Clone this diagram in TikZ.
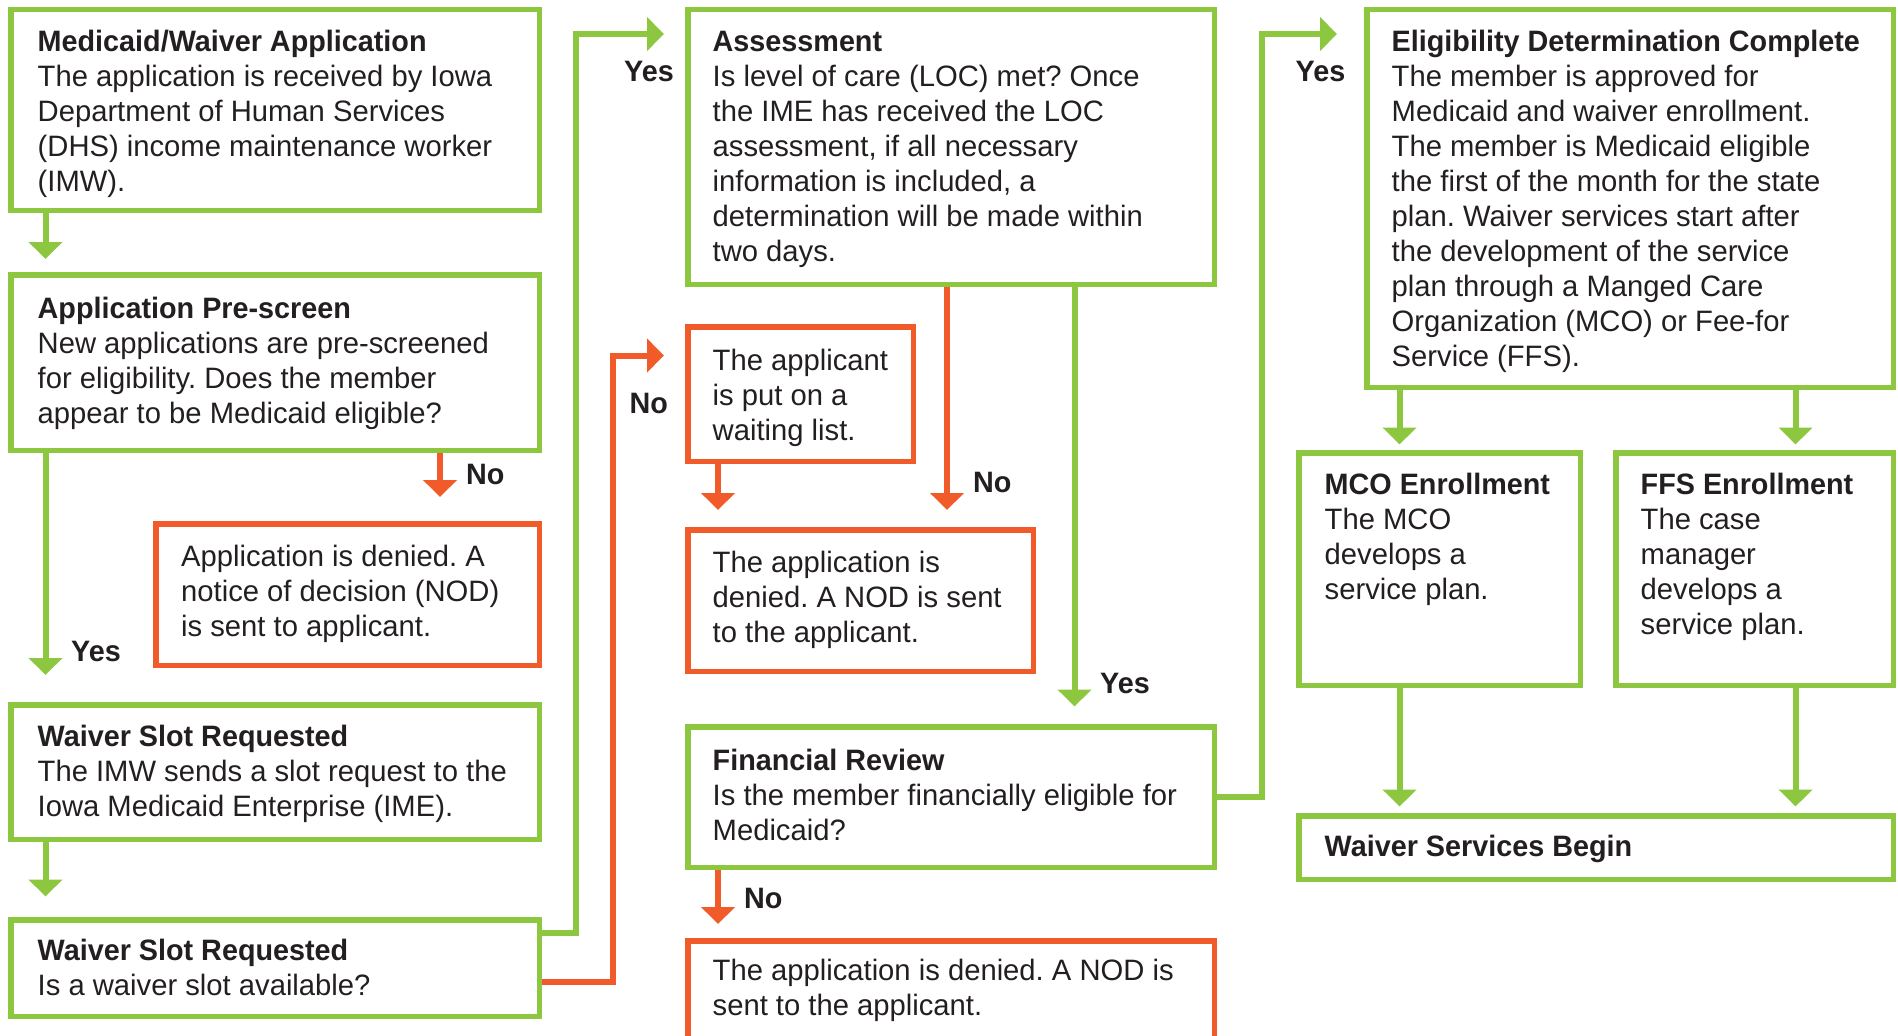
\documentclass[tikz,border=0pt]{standalone}
\usepackage{fontspec}
\setmainfont{Liberation Sans}[FakeStretch=0.99,BoldFeatures={FakeStretch=0.975}]
\usetikzlibrary{arrows.meta,calc}
\definecolor{gr}{RGB}{141,198,63}
\definecolor{og}{RGB}{241,90,41}
\definecolor{ink}{RGB}{35,31,32}
\frenchspacing
\newcommand\blk[1]{\vtop{\baselineskip=35pt\lineskiplimit=-100pt\lineskip=0pt #1}}
\newcommand\rw[1]{\hbox{#1}}
\begin{document}
\begin{tikzpicture}[x=1pt,y=-1pt,
  bx/.style={draw=gr, line width=5.5pt, inner sep=0pt, anchor=north west, fill=white},
  obx/.style={bx, draw=og},
  garr/.style={draw=gr, line width=6pt, -{Triangle[width=33pt,length=17pt]}},
  oarr/.style={garr, draw=og, -{Triangle[width=33pt,length=17pt]}},
  txt/.style={anchor=base west, inner sep=0pt, text=ink, font=\fontsize{29.5}{35}\selectfont},
  lbl/.style={txt, font=\fontsize{29.5}{35}\selectfont\bfseries}]
\useasboundingbox (0,0) rectangle (1898,1036);
\clip (0,0) rectangle (1898,1036);

% boxes
\node[bx, minimum width=528.5pt, minimum height=201pt] (A) at (8,6.5) {};
\node[bx, minimum width=528.5pt, minimum height=175.5pt] (B) at (8,272) {};
\node[obx, minimum width=383.5pt, minimum height=141.5pt] (C) at (153,521) {};
\node[bx, minimum width=528.5pt, minimum height=134.5pt] (D) at (8,702) {};
\node[bx, minimum width=528.5pt, minimum height=96.5pt] (E) at (8,917) {};
\node[bx, minimum width=526.5pt, minimum height=275pt] (F) at (685,6.5) {};
\node[obx, minimum width=225.5pt, minimum height=134.5pt] (G) at (685,324) {};
\node[obx, minimum width=345.5pt, minimum height=141.5pt] (H) at (685,527) {};
\node[bx, minimum width=526.5pt, minimum height=140.5pt] (I) at (685,724) {};
\node[obx, minimum width=526.5pt, minimum height=126.5pt] (J) at (685,938) {};
\node[bx, minimum width=526.5pt, minimum height=378pt] (K) at (1364,6.5) {};
\node[bx, minimum width=281.5pt, minimum height=232.5pt] (L) at (1296,450) {};
\node[bx, minimum width=277.5pt, minimum height=232.5pt] (M) at (1613,450) {};
\node[bx, minimum width=594.5pt, minimum height=63.5pt] (N) at (1296,813) {};

% connector guide coordinates
\coordinate (xL) at (45.5,0);
\coordinate (xNo) at (440,0);
\coordinate (xG) at (718,0);
\coordinate (xFno) at (947,0);
\coordinate (xFyes) at (1074.5,0);
\coordinate (xK1) at (1399.5,0);
\coordinate (xK2) at (1795.5,0);
\coordinate (v1) at (576,34);
\coordinate (v2) at (613,355.5);
\coordinate (v3) at (1261.5,34);

% connectors
\draw[garr] (A.south -| xL) -- ($(B.north -| xL)+(0,-13)$);
\draw[garr] (B.south -| xL) -- ($(D.north -| xL)+(0,-27)$);
\draw[oarr] (B.south -| xNo) -- ($(C.north -| xNo)+(0,-24)$);
\draw[garr] (D.south -| xL) -- ($(E.north -| xL)+(0,-20.5)$);
\draw[garr] ($(E.north east)+(0,15.5)$) -| (v1) -- ($(F.west |- v1)+(-21,0)$);
\draw[oarr] ($(E.north east)+(0,64.5)$) -| (v2) -- ($(G.west |- v2)+(-21,0)$);
\draw[oarr] (F.south -| xFno) -- ($(H.north -| xFno)+(0,-17)$);
\draw[oarr] (G.south -| xG) -- ($(H.north -| xG)+(0,-17)$);
\draw[garr] (F.south -| xFyes) -- ($(I.north -| xFyes)+(0,-17.5)$);
\draw[oarr] (I.south -| xG) -- ($(J.north -| xG)+(0,-14)$);
\draw[garr] ($(I.north east)+(0,73)$) -| (v3) -- ($(K.west |- v3)+(-27,0)$);
\draw[garr] (K.south -| xK1) -- ($(L.north -| xK1)+(0,-5.5)$);
\draw[garr] (K.south -| xK2) -- ($(M.north -| xK2)+(0,-5.5)$);
\draw[garr] (L.south -| xK1) -- ($(N.north -| xK1)+(0,-6.5)$);
\draw[garr] (M.south -| xK2) -- ($(N.north -| xK2)+(0,-6.5)$);

% labels
\node[lbl] (yes1) at (71,661) {Yes};
\node[lbl] (no1) at (466,484) {No};
\node[lbl] (yes2) at (624,81) {Yes};
\node[lbl] (no2) at (629.5,413) {No};
\node[lbl] (no3) at (973,492) {No};
\node[lbl] (yes3) at (1100,693) {Yes};
\node[lbl] (no4) at (744,908.5) {No};
\node[lbl] (yes4) at (1295.5,81) {Yes};

% texts
\node[txt] (tA) at (37.5,51.7) {\blk{\rw{\bfseries Medicaid/Waiver Application}\rw{The application is received by Iowa}\rw{Department of Human Services}\rw{(DHS) income maintenance worker}\rw{(IMW).}}};
\node[txt] (tB) at (37.5,318) {\blk{\rw{\bfseries Application Pre-screen}\rw{New applications are pre-screened}\rw{for eligibility. Does the member}\rw{appear to be Medicaid eligible?}}};
\node[txt] (tC) at (181,566.5) {\blk{\rw{Application is denied. A}\rw{notice of decision (NOD)}\rw{is sent to applicant.}}};
\node[txt] (tD) at (37.5,746) {\blk{\rw{\bfseries Waiver Slot Requested}\rw{The IMW sends a slot request to the}\rw{Iowa Medicaid Enterprise (IME).}}};
\node[txt] (tE) at (37.5,960) {\blk{\rw{\bfseries Waiver Slot Requested}\rw{Is a waiver slot available?}}};
\node[txt] (tF) at (712.5,51.7) {\blk{\rw{\bfseries Assessment}\rw{Is level of care (LOC) met? Once}\rw{the IME has received the LOC}\rw{assessment, if all necessary}\rw{information is included, a}\rw{determination will be made within}\rw{two days.}}};
\node[txt] (tG) at (712.5,370) {\blk{\rw{The applicant}\rw{is put on a}\rw{waiting list.}}};
\node[txt] (tH) at (712.5,572) {\blk{\rw{The application is}\rw{denied. A NOD is sent}\rw{to the applicant.}}};
\node[txt] (tI) at (712.5,770) {\blk{\rw{\bfseries Financial Review}\rw{Is the member financially eligible for}\rw{Medicaid?}}};
\node[txt] (tJ) at (712.5,980.5) {\blk{\rw{The application is denied. A NOD is}\rw{sent to the applicant.}}};
\node[txt] (tK) at (1391.5,51.7) {\blk{\rw{\bfseries Eligibility Determination Complete}\rw{The member is approved for}\rw{Medicaid and waiver enrollment.}\rw{The member is Medicaid eligible}\rw{the first of the month for the state}\rw{plan. Waiver services start after}\rw{the development of the service}\rw{plan through a Manged Care}\rw{Organization (MCO) or Fee-for}\rw{Service (FFS).}}};
\node[txt] (tL) at (1324.5,494) {\blk{\rw{\bfseries MCO Enrollment}\rw{The MCO}\rw{develops a}\rw{service plan.}}};
\node[txt] (tM) at (1640.5,494) {\blk{\rw{\bfseries FFS Enrollment}\rw{The case}\rw{manager}\rw{develops a}\rw{service plan.}}};
\node[txt] (tN) at (1324.5,856.7) {\blk{\rw{\bfseries Waiver Services Begin}}};
\end{tikzpicture}
\end{document}
